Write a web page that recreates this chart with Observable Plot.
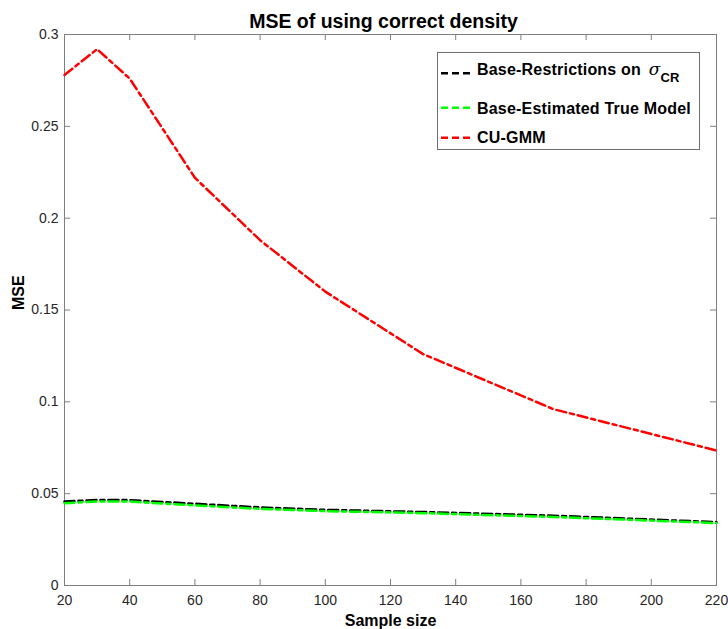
<!DOCTYPE html>
<html>
<head>
<meta charset="utf-8">
<script src="https://cdn.jsdelivr.net/npm/d3@7"></script>
<script src="https://cdn.jsdelivr.net/npm/@observablehq/plot@0.6"></script>
<style>
  html, body { margin: 0; padding: 0; background: #fff; }
  #wrap { position: relative; width: 728px; height: 629px; font-family: "Liberation Sans", Arial, sans-serif; }
  #legend { position: absolute; left: 0; top: 0; pointer-events: none; }
</style>
</head>
<body>
<div id="wrap"></div>
<script>
// ---- data ----
const sampleSizes = [20, 30, 40, 60, 80, 100, 130, 170, 220];
const baseRestrictions = [0.0457, 0.0466, 0.0465, 0.0445, 0.0425, 0.0412, 0.0400, 0.0380, 0.0345];
const baseEstimated = [0.0448, 0.0458, 0.0457, 0.0436, 0.0417, 0.0405, 0.0394, 0.0373, 0.0340];
const cuGmm = [0.278, 0.292, 0.276, 0.222, 0.188, 0.160, 0.126, 0.096, 0.0735];
const seriesNames = ["Base-Restrictions on σCR", "Base-Estimated True Model", "CU-GMM"];
const seriesColors = ["#000000", "#00ff00", "#ff0000"];
const xTicks = [20, 40, 60, 80, 100, 120, 140, 160, 180, 200, 220];
const yTicks = [0, 0.05, 0.1, 0.15, 0.2, 0.25, 0.3];

const seriesValues = [baseRestrictions, baseEstimated, cuGmm];
const table = seriesValues.flatMap((vals, i) =>
  vals.map((v, j) => ({ series: seriesNames[i], n: sampleSizes[j], mse: v })));

const W = 728, H = 629, mL = 64, mR = 12, mT = 34, mB = 44;
const innerW = W - mL - mR, innerH = H - mT - mB;
const dash = "10,4,4,4";
const axisGray = "#7f7f7f";
const font = "Liberation Sans, Arial, sans-serif";

const chart = Plot.plot({
  width: W, height: H,
  marginLeft: mL, marginRight: mR, marginTop: mT, marginBottom: mB,
  style: { fontFamily: font, background: "#fff", overflow: "visible" },
  x: { domain: [20, 220] },
  y: { domain: [0, 0.3] },
  marks: [
    Plot.frame({ stroke: axisGray, strokeWidth: 1 }),
    Plot.tickX(xTicks, { x: d => d, insetTop: innerH - 6, stroke: axisGray }),
    Plot.tickX(xTicks, { x: d => d, insetBottom: innerH - 6, stroke: axisGray }),
    Plot.tickY(yTicks, { y: d => d, insetRight: innerW - 6, stroke: axisGray }),
    Plot.tickY(yTicks, { y: d => d, insetLeft: innerW - 6, stroke: axisGray }),
    Plot.axisX({ ticks: xTicks, tickSize: 0, tickPadding: 10, fontSize: 14, fill: "#262626", label: null, tickFormat: d => String(d) }),
    Plot.axisY({ ticks: yTicks, tickSize: 0, tickPadding: 6, fontSize: 14, fill: "#262626", label: null, tickFormat: d => String(d) }),
    ...seriesNames.map((name, i) =>
      Plot.line(table.filter(d => d.series === name), {
        x: "n", y: "mse", stroke: seriesColors[i], strokeWidth: 2.5, strokeDasharray: dash
      })),
    Plot.text(["MSE of using correct density"], { frameAnchor: "top", dx: -7, dy: -20, fontSize: 19.5, fontWeight: "bold", fill: "#000" }),
    Plot.text(["Sample size"], { frameAnchor: "bottom", dy: 40, fontSize: 16, fontWeight: "bold", fill: "#000" }),
    Plot.text(["MSE"], { frameAnchor: "left", dx: -46, rotate: -90, fontSize: 16, fontWeight: "bold", fill: "#000" })
  ]
});

const wrap = document.getElementById("wrap");
wrap.appendChild(chart);

// ---- legend (overlay) ----
const lg = d3.create("svg").attr("id", "legend").attr("width", W).attr("height", H)
  .style("font-family", font);
lg.append("rect").attr("x", 437.5).attr("y", 52.5).attr("width", 262).attr("height", 97)
  .attr("fill", "#fff").attr("stroke", "#6e6e6e").attr("stroke-width", 1);
const lineYs = [73.3, 107.7, 137.7];
const textYs = [75, 114, 142.7];
seriesNames.forEach((name, i) => {
  lg.append("line").attr("x1", 441).attr("x2", 473).attr("y1", lineYs[i]).attr("y2", lineYs[i])
    .attr("stroke", seriesColors[i]).attr("stroke-width", 2.5).attr("stroke-dasharray", "7,4");
  const t = lg.append("text").attr("x", 477).attr("y", textYs[i])
    .attr("font-size", 16).attr("font-weight", "bold").attr("letter-spacing", 0.2).attr("fill", "#000");
  if (name.endsWith("σCR")) {
    t.append("tspan").text(name.replace("σCR", ""));
    t.append("tspan").attr("dx", 3).attr("font-family", "DejaVu Serif, Liberation Serif, serif")
      .attr("font-style", "italic").attr("font-weight", "normal").attr("font-size", 17).text("σ");
    t.append("tspan").attr("dy", 7).attr("font-size", 13).text("CR");
  } else {
    t.text(name);
  }
});
wrap.appendChild(lg.node());
</script>
</body>
</html>
